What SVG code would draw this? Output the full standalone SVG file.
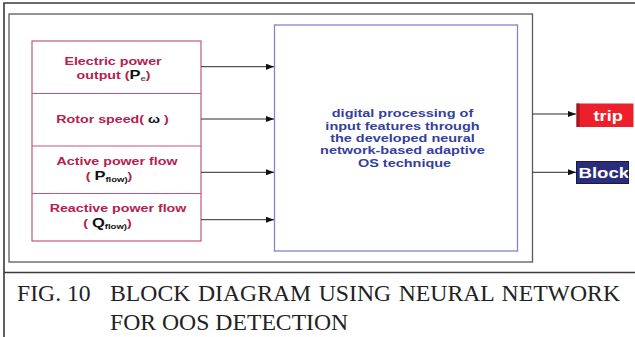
<svg xmlns="http://www.w3.org/2000/svg" width="635" height="337" viewBox="0 0 635 337">
  <defs>
    <marker id="arrow" viewBox="0 0 8 6" refX="8" refY="3" markerWidth="8" markerHeight="6" markerUnits="userSpaceOnUse" orient="auto">
      <path d="M0,0 L8,3 L0,6 Z" fill="#111"/>
    </marker>
    <clipPath id="blockClip">
      <rect x="576.5" y="161.5" width="52" height="22"/>
    </clipPath>
    <style>
      .frame { fill: none; stroke: #3a3a3a; stroke-width: 1.6; }
      .inner { fill: #fff; stroke: #5a5a5a; stroke-width: 1.3; }
      .inbox { fill: #fff; stroke: #c6557c; stroke-width: 1.2; }
      .proc { fill: #fff; stroke: #7d87cf; stroke-width: 1.3; }
      .conn { stroke: #2a2a2a; stroke-width: 1; fill: none; }
      .lbl { font-family: "Liberation Sans", Arial, sans-serif; font-weight: bold; font-size: 11.2px; fill: #b5204f; text-anchor: middle; }
      .sym { fill: #111; }
      .sub { font-size: 7.5px; }
      .proctxt { font-family: "Liberation Sans", Arial, sans-serif; font-weight: bold; font-size: 11.4px; fill: #343f9e; text-anchor: middle; }
      .out { font-family: "Liberation Sans", Arial, sans-serif; font-weight: bold; fill: #fff; }
      .cap { font-family: "Liberation Serif", "Times New Roman", serif; font-size: 22.3px; fill: #222; }
    </style>
  </defs>

  <rect width="635" height="337" fill="#fff"/>

  <!-- outer page frame and caption separator -->
  <g id="frame">
    <path class="frame" d="M4,337 V3 H635"/>
    <path class="frame" d="M4,272.5 H635"/>
    <rect class="inner" x="9" y="14" width="523.5" height="248"/>
  </g>

  <!-- input feature blocks -->
  <g id="inputs">
    <rect class="inbox" x="32" y="41" width="169" height="200"/>
    <path class="inbox" d="M32,93.5 H201 M32,146 H201 M32,193.5 H201"/>
  </g>
  <g id="in-pe">
    <text class="lbl" transform="translate(113,65) scale(1.27,1)">Electric power</text>
    <text class="lbl" transform="translate(113.5,78.5) scale(1.27,1)">output (<tspan class="sym" font-size="13px">P</tspan><tspan class="sub" fill="#555a66" dy="2">e</tspan><tspan dy="-2">)</tspan></text>
  </g>
  <g id="in-omega">
    <text class="lbl" transform="translate(112.5,123) scale(1.27,1)">Rotor speed( <tspan class="sym">ω</tspan> )</text>
  </g>
  <g id="in-pflow">
    <text class="lbl" transform="translate(117,165) scale(1.27,1)">Active power flow</text>
    <text class="lbl" transform="translate(109,180) scale(1.27,1)">( <tspan class="sym" font-size="13px">P</tspan><tspan class="sym sub" dy="2">flow)</tspan><tspan dy="-2">)</tspan></text>
  </g>
  <g id="in-qflow">
    <text class="lbl" transform="translate(118,212) scale(1.27,1)">Reactive power flow</text>
    <text class="lbl" transform="translate(107.5,227) scale(1.27,1)">( <tspan class="sym" font-size="13px">Q</tspan><tspan class="sym sub" dy="2">flow)</tspan><tspan dy="-2">)</tspan></text>
  </g>

  <!-- neural network processing block -->
  <g id="processor">
    <rect class="proc" x="274.5" y="25" width="243" height="226"/>
    <text class="proctxt" transform="translate(404.5,0) scale(1.27,1)">
      <tspan x="0" y="117.5">digital processing of</tspan>
      <tspan x="0" y="129.8">input features through</tspan>
      <tspan x="0" y="142.1">the developed neural</tspan>
      <tspan x="0" y="154.4">network-based adaptive</tspan>
      <tspan x="0" y="166.7">OS technique</tspan>
    </text>
  </g>

  <!-- output decisions -->
  <g id="out-trip">
    <rect x="576.5" y="103.5" width="57" height="23.5" fill="#ec1f2a"/>
    <rect x="576.5" y="103.5" width="3" height="23.5" fill="#9e1a22"/>
    <text class="out" transform="translate(593.5,121) scale(1.3,1)" font-size="14px">trip</text>
  </g>
  <g id="out-block">
    <rect x="576.5" y="161.5" width="52" height="22" fill="#2b2d7c" stroke="#1a1a40" stroke-width="1"/>
    <g clip-path="url(#blockClip)">
      <text class="out" transform="translate(578.5,178) scale(1.3,1)" font-size="14.3px">Block</text>
    </g>
  </g>

  <!-- connectors -->
  <g id="connectors">
    <path class="conn" d="M201,66.7 H274" marker-end="url(#arrow)"/>
    <path class="conn" d="M201,119 H274" marker-end="url(#arrow)"/>
    <path class="conn" d="M201,172.3 H274" marker-end="url(#arrow)"/>
    <path class="conn" d="M201,219.7 H274" marker-end="url(#arrow)"/>
    <path class="conn" d="M532.5,114 H576" marker-end="url(#arrow)"/>
    <path class="conn" d="M532.5,172.3 H576" marker-end="url(#arrow)"/>
  </g>

  <!-- caption -->
  <g id="caption">
    <text class="cap" transform="translate(17,300.5) scale(1.063,1)">FIG. 10</text>
    <text class="cap" transform="translate(110,300.5) scale(1.063,1)" word-spacing="1.6">BLOCK DIAGRAM USING NEURAL NETWORK</text>
    <text class="cap" transform="translate(110,329.5) scale(1.063,1)">FOR OOS DETECTION</text>
  </g>
</svg>
